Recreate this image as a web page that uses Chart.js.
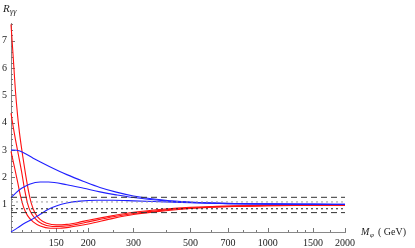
<!DOCTYPE html>
<html>
<head>
<meta charset="utf-8">
<script src="https://cdn.jsdelivr.net/npm/chart.js@4/dist/chart.umd.min.js"></script>
<style>
  html, body { margin: 0; padding: 0; background: #fff; }
  #wrap { width: 415px; height: 248px; }
</style>
</head>
<body>
<div id="wrap"><canvas id="chart"></canvas></div>
<script>
// M_phi (GeV) sample points and R_gamma-gamma values
const massRed1 = [100, 101, 102.5, 104, 106, 108, 111, 114, 117, 120, 124, 130, 138, 150, 165, 185, 200, 250, 300, 400, 500, 700, 1000, 1500, 2000];
const red1     = [7.6, 7.0, 6.1, 5.2, 4.3, 3.6, 2.8, 2.1, 1.5, 1.05, 0.7, 0.45, 0.32, 0.26, 0.28, 0.36, 0.43, 0.6, 0.72, 0.84, 0.9, 0.95, 0.975, 0.99, 0.99];
const massRed2 = [100, 102, 104, 107, 110, 113, 116, 119, 124, 132, 145, 160, 180, 200, 250, 300, 400, 500, 700, 1000, 1500, 2000];
const red2     = [4.35, 3.85, 3.4, 2.8, 2.2, 1.55, 1.05, 0.75, 0.5, 0.3, 0.2, 0.21, 0.28, 0.37, 0.56, 0.68, 0.81, 0.88, 0.94, 0.965, 0.98, 0.985];
const massRed3 = [100, 103, 106, 109, 112, 116, 122, 130, 142, 155, 175, 200, 250, 300, 400, 500, 700, 1000, 1500, 2000];
const red3     = [2.95, 2.4, 1.85, 1.3, 0.9, 0.6, 0.37, 0.22, 0.14, 0.14, 0.2, 0.29, 0.5, 0.64, 0.78, 0.86, 0.93, 0.96, 0.975, 0.985];

const massBlue = [100, 105, 110, 122, 141, 165, 192, 222, 257, 300, 400, 500, 700, 1000, 1500, 2000];
const blueTop  = [3.0, 2.99, 2.94, 2.7, 2.4, 2.1, 1.85, 1.63, 1.46, 1.32, 1.16, 1.1, 1.05, 1.03, 1.02, 1.01];
const massBlueMid = [100, 105, 110, 118, 130, 140, 165, 192, 222, 257, 300, 400, 500, 700, 1000, 1500, 2000];
const blueMid  = [1.25, 1.45, 1.6, 1.75, 1.83, 1.83, 1.73, 1.6, 1.47, 1.36, 1.26, 1.14, 1.08, 1.04, 1.025, 1.015, 1.01];
const massBlueLow = [100, 106, 112, 120, 130, 140, 150, 165, 186, 216, 250, 300, 400, 500, 700, 1000, 1500, 2000];
const blueLow  = [0.0, 0.15, 0.3, 0.45, 0.65, 0.83, 0.95, 1.06, 1.13, 1.16, 1.16, 1.14, 1.1, 1.07, 1.04, 1.02, 1.01, 1.005];

// horizontal reference levels
const dashedLevels = [1.27, 0.71];
const dottedGrayLevel = 1.10;
const dottedBlackLevel = 0.85;

const xRange = [100, 2000];
const yRange = [0, 7.65];
const xLabels = [150, 200, 300, 500, 700, 1000, 1500, 2000];
const xMinor = [110, 120, 130, 140, 160, 170, 180, 190, 250, 400, 600, 800, 900, 1200, 1300, 1400, 1750];
const yLabels = [1, 2, 3, 4, 5, 6, 7];

const zip = (xs, ys) => xs.map((x, i) => ({ x: x, y: ys[i] }));
const flat = (y) => xRange.map(x => ({ x: x, y: y }));

const curve = (data, color) => ({
    data: data,
    borderColor: color,
    borderWidth: 1.1,
    pointRadius: 0,
    cubicInterpolationMode: 'monotone',
    clip: 4,
    fill: false
});
const refLine = (y, color, dash) => ({
    data: flat(y),
    borderColor: color,
    borderWidth: 1,
    borderDash: dash,
    pointRadius: 0,
    fill: false
});

const serif = "'Liberation Serif', 'DejaVu Serif', serif";

// inward tick marks and the axis titles, Mathematica style
const axisDecor = {
    id: 'axisDecor',
    beforeDatasetsDraw(chart) {
        const ctx = chart.ctx;
        const x = chart.scales.x, y = chart.scales.y;
        const area = chart.chartArea;
        ctx.save();
        ctx.strokeStyle = '#777';
        ctx.lineWidth = 1;
        ctx.beginPath();
        for (let v = 0.2; v < yRange[1]; v += 0.2) {
            const major = Math.abs(v - Math.round(v)) < 1e-6;
            const py = Math.round(y.getPixelForValue(v)) + 0.5;
            ctx.moveTo(area.left, py);
            ctx.lineTo(area.left + (major ? 4 : 2), py);
        }
        xLabels.forEach(v => {
            const px = Math.round(x.getPixelForValue(v)) + 0.5;
            ctx.moveTo(px, area.bottom);
            ctx.lineTo(px, area.bottom - 4);
        });
        xMinor.forEach(v => {
            const px = Math.round(x.getPixelForValue(v)) + 0.5;
            ctx.moveTo(px, area.bottom);
            ctx.lineTo(px, area.bottom - 2);
        });
        ctx.stroke();
        ctx.restore();
    },
    afterDraw(chart) {
        const ctx = chart.ctx;
        const area = chart.chartArea;
        ctx.save();
        ctx.fillStyle = '#222';
        ctx.textBaseline = 'alphabetic';
        ctx.font = 'italic 11px ' + serif;
        ctx.fillText('R', 3, 12);
        ctx.font = 'italic 8px ' + serif;
        ctx.fillText('γγ', 10, 14);

        const ly = area.bottom + 3;
        ctx.font = 'italic 10px ' + serif;
        ctx.fillText('M', 361, ly);
        ctx.font = 'italic 7px ' + serif;
        ctx.fillText('φ', 370, ly + 2);
        ctx.font = '10px ' + serif;
        ctx.fillText('( GeV)', 378, ly);
        ctx.restore();
    }
};

new Chart(document.getElementById('chart'), {
    type: 'line',
    data: {
        datasets: [
            refLine(dashedLevels[0], '#333', [6, 4]),
            refLine(dottedGrayLevel, '#999', [2, 3]),
            refLine(dottedBlackLevel, '#222', [2, 3]),
            refLine(dashedLevels[1], '#333', [6, 4]),
            curve(zip(massBlue, blueTop), '#2020ff'),
            curve(zip(massBlueMid, blueMid), '#2020ff'),
            curve(zip(massBlueLow, blueLow), '#2020ff'),
            curve(zip(massRed1, red1), '#ff1010'),
            curve(zip(massRed2, red2), '#ff1010'),
            curve(zip(massRed3, red3), '#ff1010')
        ]
    },
    options: {
        responsive: true,
        maintainAspectRatio: false,
        animation: false,
        events: [],
        layout: { padding: { left: 0, right: 70, top: 23, bottom: 0 } },
        plugins: { legend: { display: false }, tooltip: { enabled: false } },
        scales: {
            x: {
                type: 'logarithmic',
                min: xRange[0],
                max: xRange[1],
                grid: { display: false, drawTicks: false },
                border: { display: true, color: '#888', width: 1 },
                afterBuildTicks: s => { s.ticks = xLabels.map(v => ({ value: v })); },
                afterFit: s => { s.height = 16; },
                ticks: {
                    autoSkip: false,
                    maxRotation: 0,
                    padding: 5,
                    color: '#222',
                    font: { family: serif, size: 10 },
                    callback: v => String(v)
                }
            },
            y: {
                type: 'linear',
                min: yRange[0],
                max: yRange[1],
                grid: { display: false, drawTicks: false },
                border: { display: true, color: '#888', width: 1 },
                afterBuildTicks: s => { s.ticks = yLabels.map(v => ({ value: v })); },
                afterFit: s => { s.width = 11; },
                ticks: {
                    padding: 4,
                    color: '#222',
                    font: { family: serif, size: 10 },
                    callback: v => String(v)
                }
            }
        }
    },
    plugins: [axisDecor]
});
</script>
</body>
</html>
